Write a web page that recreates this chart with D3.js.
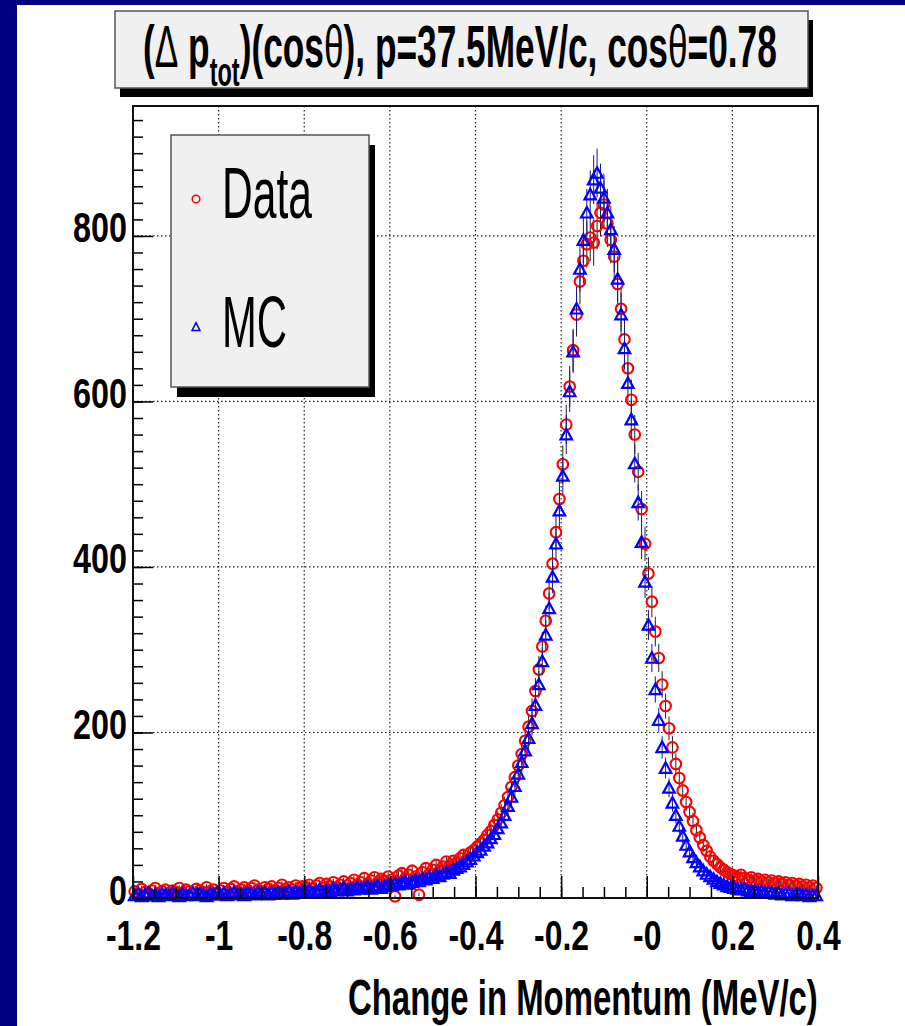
<!DOCTYPE html>
<html><head><meta charset="utf-8">
<script src="https://cdn.jsdelivr.net/npm/d3@7"></script>
<style>body{margin:0;background:#fff;} svg{display:block}</style>
</head><body>
<svg id="c" width="905" height="1026"></svg>
<script>
// ---- data (200 bins of 0.008 from -1.2 to 0.4) ----
const binLow = -1.2, binWidth = 0.008;
const mcValues = [
  3,5,2,4,6,3,4,2,5,4,3,6,4,2,5,3,4,6,3,5,4,2,5,4,6,
  4,6,3,5,7,4,5,3,6,5,4,7,5,6,4,6,5,7,5,6,8,5,7,6,8,
  7,9,6,8,10,7,9,8,11,9,10,12,9,11,10,13,11,12,14,11,13,15,12,14,16,
  15,17,16,18,20,17,19,21,20,23,22,25,24,27,26,29,31,30,34,36,38,41,44,47,51,
  55,58,63,67,72,77,84,91,100,111,122,135,150,164,178,193,211,233,258,286,318,350,388,428,468,
  510,560,612,660,712,760,795,828,850,868,876,858,846,828,808,784,748,705,664,622,578,525,478,430,382,
  330,290,252,215,182,157,133,115,100,87,75,64,56,49,43,38,33,29,26,23,20,18,16,14,13,
  12,11,10,11,9,8,9,7,8,6,7,6,5,6,4,5,5,3,4,5,3,4,2,3,3
];
const dataValues = [
  8,5,11,7,3,9,12,6,8,10,4,9,7,12,6,10,8,5,11,9,7,13,8,10,6,
  9,12,7,11,14,8,10,13,9,12,15,10,8,13,11,14,9,12,16,11,13,10,15,12,14,
  13,16,11,15,18,12,17,14,19,13,16,20,15,18,22,16,19,24,17,21,25,19,23,20,26,
  22,2,27,30,24,28,33,26,4,31,36,29,34,40,33,38,44,39,45,42,48,52,47,55,58,
  62,66,70,76,81,88,95,103,112,122,134,146,160,174,190,207,226,250,276,304,335,368,404,442,482,
  524,572,618,662,705,745,770,790,798,792,812,828,838,815,795,775,742,712,675,640,602,560,515,470,428,
  392,358,322,290,258,232,205,182,162,145,130,116,104,93,82,73,64,57,50,45,41,37,34,31,29,
  27,25,28,24,22,25,21,23,20,22,19,21,18,20,17,19,16,18,15,17,14,16,13,15,12
];
const xTickValues = [-1.2,-1,-0.8,-0.6,-0.4,-0.2,0,0.2,0.4];
const xTickLabels = ["-1.2","-1","-0.8","-0.6","-0.4","-0.2","-0","0.2","0.4"];
const xGridValues = [-1,-0.8,-0.6,-0.4,-0.2,0,0.2];
const yTickValues = [0,200,400,600,800];
const yTickLabels = ["0","200","400","600","800"];
const yGridValues = [200,400,600,800];
const legendLabels = ["Data","MC"];
const xTitle = "Change in Momentum (MeV/c)";

// ---- layout ----
const svg = d3.select("#c");
const L = 133, R = 818, T = 106, B = 898;
const x = d3.scaleLinear().domain([-1.2, 0.4]).range([L, R]);
const y = d3.scaleLinear().domain([0, 957]).range([B, T]);
const FONT = "'Liberation Sans', Arial, Helvetica, sans-serif";
const navy = "#000080";

svg.append("rect").attr("width",905).attr("height",1026).attr("fill","#fff");
svg.append("rect").attr("x",0).attr("y",0).attr("width",17).attr("height",1026).attr("fill",navy);
svg.append("rect").attr("x",0).attr("y",0).attr("width",905).attr("height",5).attr("fill",navy);

function fit(sel, tx, ty, w){
  const bw = sel.node().getComputedTextLength();
  sel.attr("transform", `translate(${tx},${ty}) scale(${w/bw},1)`);
}

// title box
svg.append("rect").attr("x",120).attr("y",20).attr("width",693).attr("height",77).attr("fill","#000");
svg.append("rect").attr("x",115).attr("y",11).attr("width",693).attr("height",77)
  .attr("fill","#f0f0f0").attr("stroke","#555").attr("stroke-width",1.5);
const title = svg.append("text").attr("font-family",FONT).attr("font-weight","bold")
  .attr("font-size",60).attr("fill","#000");
title.append("tspan").text("(");
title.append("tspan").attr("font-weight","normal").text("Δ");
title.append("tspan").text(" p");
title.append("tspan").attr("font-size",40).attr("dy",19).text("tot");
title.append("tspan").attr("dy",-19).text(")(cos");
title.append("tspan").attr("font-weight","normal").text("θ");
title.append("tspan").text("), p=37.5MeV/c, cos");
title.append("tspan").attr("font-weight","normal").text("θ");
title.append("tspan").text("=0.78");
fit(title, 143, 67, 634);

// plot area
svg.append("rect").attr("x",L).attr("y",T).attr("width",R-L).attr("height",B-T).attr("fill","#fff");

// grid
const grid = svg.append("g").attr("stroke","#222").attr("stroke-width",1.2).attr("stroke-dasharray","1.5,2.5");
grid.selectAll(".gx").data(xGridValues).join("line")
  .attr("x1",d=>x(d)).attr("x2",d=>x(d)).attr("y1",T).attr("y2",B);
grid.selectAll(".gy").data(yGridValues).join("line")
  .attr("y1",d=>y(d)).attr("y2",d=>y(d)).attr("x1",L).attr("x2",R);

// data
const centers = mcValues.map((_, i) => binLow + binWidth * (i + 0.5));
const dataPts = dataValues.map((v, i) => ({x: centers[i], v}));
const mcPts = mcValues.map((v, i) => ({x: centers[i], v}));

svg.append("defs").append("clipPath").attr("id","pc")
  .append("rect").attr("x",L-6).attr("y",T).attr("width",R-L+12).attr("height",B-T+8);
const plot = svg.append("g").attr("clip-path","url(#pc)");

function errBars(pts, color){
  plot.append("g").attr("stroke",color).attr("stroke-width",1)
    .selectAll("line").data(pts).join("line")
    .attr("x1",d=>x(d.x)).attr("x2",d=>x(d.x))
    .attr("y1",d=>y(d.v+Math.sqrt(d.v))).attr("y2",d=>y(Math.max(0,d.v-Math.sqrt(d.v))));
}
function triPath(cx, cy, w, h){
  return `M${cx},${cy-h*0.55}L${cx+w/2},${cy+h*0.45}L${cx-w/2},${cy+h*0.45}Z`;
}
errBars(dataPts, "#222");
plot.append("g").attr("fill","none").attr("stroke","#ff0000").attr("stroke-width",2.1)
  .selectAll("circle").data(dataPts).join("circle")
  .attr("cx",d=>x(d.x)).attr("cy",d=>y(d.v)).attr("r",5.3);
errBars(mcPts, "#1a1a80");
plot.append("g").attr("fill","none").attr("stroke","#0000ff").attr("stroke-width",2.2)
  .selectAll("path").data(mcPts).join("path")
  .attr("d",d=>triPath(x(d.x), y(d.v), 11.5, 10.5));

// axes
const xMinor = d3.range(-1.2, 0.4001, 0.05);
const yMinor = d3.range(0, 957, 20);
const gx = svg.append("g").attr("transform",`translate(0,${B})`);
gx.call(d3.axisBottom(x).tickValues(xMinor).tickSize(-11).tickFormat(""));
const gx2 = svg.append("g").attr("transform",`translate(0,${B})`);
gx2.call(d3.axisBottom(x).tickValues(xTickValues).tickSize(-22).tickFormat((d,i)=>xTickLabels[i]));
[gx, gx2].forEach(g => { g.select(".domain").remove(); g.selectAll("line").attr("stroke","#000").attr("stroke-width",1.5); });
gx2.selectAll("text").attr("y",52).attr("dy",null)
  .attr("font-family",FONT).attr("font-weight","bold").attr("font-size",42).attr("fill","#000")
  .attr("transform","scale(0.76,1)");

const gy = svg.append("g").attr("transform",`translate(${L},0)`);
gy.call(d3.axisLeft(y).tickValues(yMinor).tickSize(-10).tickFormat(""));
const gy2 = svg.append("g").attr("transform",`translate(${L},0)`);
gy2.call(d3.axisLeft(y).tickValues(yTickValues).tickSize(-20).tickFormat((d,i)=>yTickLabels[i]));
[gy, gy2].forEach(g => { g.select(".domain").remove(); g.selectAll("line").attr("stroke","#000").attr("stroke-width",1.5); });
gy2.selectAll("text").attr("x",-6/0.77).attr("y",6).attr("dy",null).attr("text-anchor","end")
  .attr("font-family",FONT).attr("font-weight","bold").attr("font-size",42).attr("fill","#000")
  .attr("transform","scale(0.77,1)");

// frame
svg.append("rect").attr("x",L).attr("y",T).attr("width",R-L).attr("height",B-T)
  .attr("fill","none").attr("stroke","#111").attr("stroke-width",2);

// x title
const xt = svg.append("text").attr("font-family",FONT).attr("font-weight","bold")
  .attr("font-size",50).attr("fill","#000").text(xTitle);
fit(xt, 348, 1015, 470);

// legend
svg.append("rect").attr("x",177).attr("y",145).attr("width",198).attr("height",252).attr("fill","#000");
svg.append("rect").attr("x",171).attr("y",135).attr("width",198).attr("height",252)
  .attr("fill","#f0f0f0").attr("stroke","#555").attr("stroke-width",1.5);
svg.append("circle").attr("cx",196).attr("cy",199).attr("r",3.8)
  .attr("fill","none").attr("stroke","#ff0000").attr("stroke-width",1.5);
svg.append("path").attr("d",triPath(196,327,8,8))
  .attr("fill","none").attr("stroke","#0000ff").attr("stroke-width",1.5);
const lt1 = svg.append("text").attr("font-family",FONT).attr("font-size",72).attr("fill","#000").text(legendLabels[0]);
fit(lt1, 222, 218, 90);
const lt2 = svg.append("text").attr("font-family",FONT).attr("font-size",72).attr("fill","#000").text(legendLabels[1]);
fit(lt2, 222, 347, 65);
</script>
</body></html>
